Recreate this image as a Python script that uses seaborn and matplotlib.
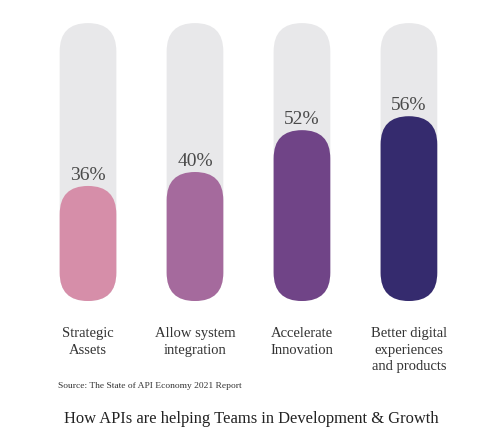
import matplotlib
matplotlib.use("Agg")
import matplotlib.pyplot as plt
from matplotlib.patches import FancyBboxPatch
import pandas as pd
import seaborn as sns

categories = ["Strategic\nAssets", "Allow system\nintegration",
              "Accelerate\nInnovation", "Better digital\nexperiences\nand products"]
values = [36, 40, 52, 56]
colors = ["#d68ea9", "#a56a9d", "#704487", "#352b6e"]
track_color = "#e8e8ea"
source = "Source: The State of API Economy 2021 Report"
title = "How APIs are helping Teams in Development & Growth"

sns.set_theme(style="white")
plt.rcParams["font.family"] = ["Liberation Serif", "DejaVu Serif"]

fig = plt.figure(figsize=(5.04, 4.44), dpi=100)
ax = fig.add_axes([0.0685, 0.322, 0.849, 0.626])

df = pd.DataFrame({"category": categories, "value": values})
sns.barplot(data=df, x="category", y="value", hue="category", palette=colors,
            width=0.53, legend=False, ax=ax)

# scale does not start at zero in the original
ymin, ymax = 3, 82.7
ax.set_xlim(-0.5, 3.5)
ax.set_ylim(ymin, ymax)

# data units per pixel, so the caps come out round
bbox = ax.get_window_extent()
ypp = (ymax - ymin) / bbox.height
aspect = ypp / (4 / bbox.width)

bars = list(ax.patches)
for bar, val, col in zip(bars, values, colors):
    x, w = bar.get_x(), bar.get_width()
    bar.remove()
    style = f"round,pad=0,rounding_size={w / 2}"
    ax.add_patch(FancyBboxPatch((x, ymin), w, ymax - ymin, boxstyle=style,
                                mutation_aspect=aspect, fc=track_color, ec="none"))
    ax.add_patch(FancyBboxPatch((x, ymin), w, val - ymin, boxstyle=style,
                                mutation_aspect=aspect, fc=col, ec="none"))
    ax.text(x + w / 2, val + 6 * ypp, f"{val}%", ha="center", va="baseline",
            fontsize=14, color="#4a4a4a")

ax.set_xlabel("")
ax.set_ylabel("")
ax.set_yticks([])
ax.set_xticks(range(len(categories)))
ax.set_xticklabels(categories, fontsize=10.5, color="#333333", linespacing=1.32)
ax.tick_params(axis="x", length=0, pad=19)
sns.despine(ax=ax, left=True, bottom=True)

fig.text(57.7 / 504, 1 - 386 / 444, source, fontsize=6.8, color="#333333", va="center")
fig.text(0.498, 1 - 419 / 444, title, fontsize=11.9, color="#222222",
         ha="center", va="center")

fig.savefig("out.png", dpi=100, facecolor="white")
